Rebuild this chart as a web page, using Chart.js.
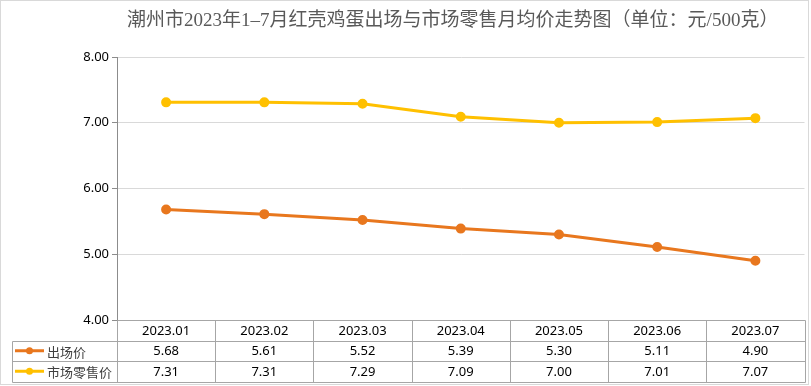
<!DOCTYPE html>
<html>
<head>
<meta charset="utf-8">
<script src="https://cdn.jsdelivr.net/npm/chart.js@4"></script>
<style>
  body { margin: 0; background: #fff; }
  canvas { display: block; }
</style>
</head>
<body>
<canvas id="eggChart" width="811" height="386"></canvas>
<script>
// Chart data
const titleText = '潮州市2023年1–7月红壳鸡蛋出场与市场零售月均价走势图（单位：元/500克）';
const months = ['2023.01', '2023.02', '2023.03', '2023.04', '2023.05', '2023.06', '2023.07'];
const factoryPrice = [5.68, 5.61, 5.52, 5.39, 5.30, 5.11, 4.90];
const retailPrice = [7.31, 7.31, 7.29, 7.09, 7.00, 7.01, 7.07];
const seriesNames = ['出场价', '市场零售价'];
const seriesColors = ['#E8771E', '#FFC000'];

const tableFont = '13px "Noto Sans", sans-serif';
const cjkFont = '13px "Noto Sans CJK SC", sans-serif';

// draws title, frame and data table under the plot
const tablePlugin = {
    id: 'dataTable',
    afterDraw(chart) {
        const ctx = chart.ctx;
        const area = chart.chartArea;
        const xScale = chart.scales.x;
        const colW = (area.right - area.left) / months.length;
        const rowH = 20.5;
        const top = area.bottom;
        const tableLeft = 12;

        ctx.save();
        // outer frame
        ctx.strokeStyle = '#d9d9d9';
        ctx.lineWidth = 1;
        ctx.strokeRect(0.5, 0.5, 808, 384);

        // title
        ctx.fillStyle = '#595959';
        ctx.font = '19px "Liberation Serif", "Noto Sans CJK SC", serif';
        ctx.textAlign = 'center';
        ctx.textBaseline = 'middle';
        ctx.fillText(titleText, (area.left + area.right) / 2 - 8, 21);

        // table grid
        ctx.strokeStyle = '#a6a6a6';
        ctx.beginPath();
        const r = v => Math.round(v) + 0.5;
        ctx.moveTo(r(area.left), r(top));
        ctx.lineTo(r(area.right), r(top));
        for (let i = 1; i <= 3; i++) {
            ctx.moveTo(r(tableLeft), r(top + rowH * i));
            ctx.lineTo(r(area.right), r(top + rowH * i));
        }
        for (let i = 0; i <= months.length; i++) {
            const x = r(area.left + colW * i);
            ctx.moveTo(x, r(top));
            ctx.lineTo(x, r(top + rowH * 3));
        }
        ctx.moveTo(r(tableLeft), r(top + rowH));
        ctx.lineTo(r(tableLeft), r(top + rowH * 3));
        ctx.stroke();

        // header + values
        ctx.fillStyle = '#000';
        ctx.font = tableFont;
        const rows = [factoryPrice, retailPrice];
        months.forEach((m, i) => {
            const cx = xScale.getPixelForValue(i);
            ctx.fillText(m, cx, top + rowH * 0.5 + 1);
            rows.forEach((vals, j) => {
                ctx.fillText(vals[i].toFixed(2), cx, top + rowH * (j + 1.5) + 1);
            });
        });

        // legend keys in the first column
        seriesNames.forEach((name, j) => {
            const cy = top + rowH * (j + 1.5);
            ctx.strokeStyle = seriesColors[j];
            ctx.fillStyle = seriesColors[j];
            ctx.lineWidth = 3;
            ctx.beginPath();
            ctx.moveTo(15, cy);
            ctx.lineTo(44, cy);
            ctx.stroke();
            ctx.beginPath();
            ctx.arc(29.5, cy, 3.5, 0, Math.PI * 2);
            ctx.fill();
            ctx.fillStyle = '#404040';
            ctx.font = cjkFont;
            ctx.textAlign = 'left';
            ctx.fillText(name, 47, cy + 1);
        });
        ctx.restore();
    }
};

const ctx = document.getElementById('eggChart').getContext('2d');
const eggChart = new Chart(ctx, {
    type: 'line',
    data: {
        labels: months,
        datasets: [
            {
                label: seriesNames[0],
                data: factoryPrice,
                borderColor: seriesColors[0],
                backgroundColor: seriesColors[0],
                borderWidth: 3,
                pointRadius: 3.5,
                pointHoverRadius: 3.5
            },
            {
                label: seriesNames[1],
                data: retailPrice,
                borderColor: seriesColors[1],
                backgroundColor: seriesColors[1],
                borderWidth: 3,
                pointRadius: 3.5,
                pointHoverRadius: 3.5
            }
        ]
    },
    options: {
        responsive: false,
        animation: false,
        layout: {
            padding: { top: 57, bottom: 66, left: 0, right: 6 }
        },
        plugins: {
            legend: { display: false },
            title: { display: false },
            tooltip: { enabled: false }
        },
        scales: {
            x: {
                display: false,
                offset: true
            },
            y: {
                min: 4,
                max: 8,
                afterFit(scale) { scale.width = 117; },
                border: { color: '#8c8c8c' },
                grid: {
                    color: '#d9d9d9',
                    tickColor: '#8c8c8c',
                    tickLength: 5
                },
                ticks: {
                    stepSize: 1,
                    color: '#000',
                    font: { family: '"Noto Sans", sans-serif', size: 13 },
                    padding: 3,
                    callback: v => v.toFixed(2)
                }
            }
        }
    },
    plugins: [tablePlugin]
});
</script>
</body>
</html>
